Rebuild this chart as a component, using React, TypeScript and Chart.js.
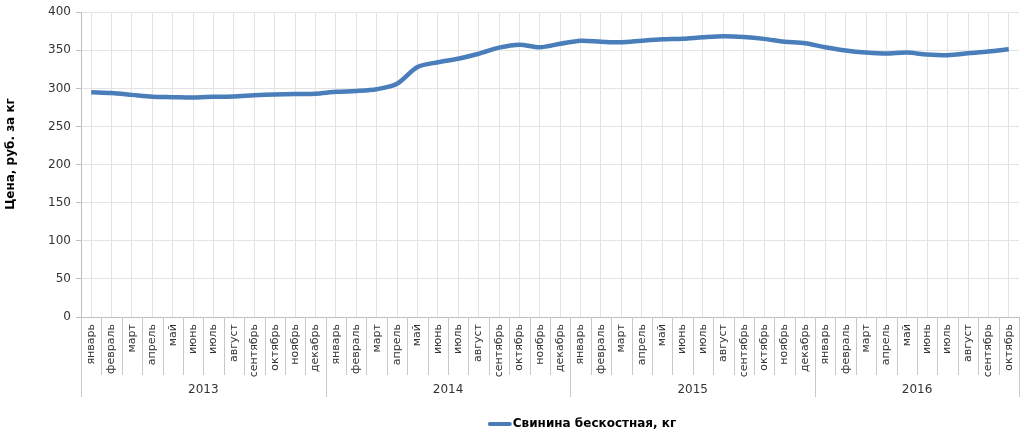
import React, { useEffect, useRef } from "react";
import { Chart, registerables } from "chart.js";

Chart.register(...registerables);

const monthNames = [
  "январь", "февраль", "март", "апрель", "май", "июнь",
  "июль", "август", "сентябрь", "октябрь", "ноябрь", "декабрь",
];
const years = ["2013", "2014", "2015", "2016"];
const values2013 = [295, 294, 291.5, 289, 288.5, 288, 289, 289.5, 291, 292, 292.5, 293];
const values2014 = [295.5, 296.6, 299, 306, 328, 334.4, 339, 345.5, 353.5, 357.4, 354, 358.5];
const values2015 = [362.6, 361.3, 360.5, 362.6, 364.4, 365.2, 367, 368.3, 367.4, 365, 361.3, 359.2];
const values2016 = [354, 349.7, 347, 345.7, 347, 344.4, 343.6, 346, 348.3, 351.4];
const seriesName = "Свинина бескостная, кг";
const yTitle = "Цена, руб. за кг";

const yearValues = [values2013, values2014, values2015, values2016];
const labels: string[] = [];
const values: number[] = [];
const yearCounts: number[] = [];
yearValues.forEach((arr) => {
  yearCounts.push(arr.length);
  arr.forEach((v, i) => {
    labels.push(monthNames[i]);
    values.push(v);
  });
});

const LINE_COLOR = "#4A7EBB";
const FONT = "'DejaVu Sans', Verdana, sans-serif";

const groupPlugin = {
  id: "groupAxis",
  afterDraw(chart: any) {
    const ctx = chart.ctx;
    const x = chart.scales.x;
    const area = chart.chartArea;
    const n = labels.length;
    const bw = (area.right - area.left) / n;
    const bottom = area.bottom;
    const boundaries = new Set<number>();
    let acc = 0;
    boundaries.add(0);
    yearCounts.forEach((c) => {
      acc += c;
      boundaries.add(acc);
    });
    ctx.save();
    ctx.strokeStyle = "#c8c8c8";
    ctx.lineWidth = 1;
    for (let i = 0; i <= n; i++) {
      const px = Math.round(area.left + i * bw) + 0.5;
      const len = boundaries.has(i) ? 80 : 58;
      ctx.beginPath();
      ctx.moveTo(px, bottom);
      ctx.lineTo(px, bottom + len);
      ctx.stroke();
    }
    // year labels
    ctx.fillStyle = "#333";
    ctx.font = `12px ${FONT}`;
    ctx.textAlign = "center";
    ctx.textBaseline = "middle";
    let start = 0;
    years.forEach((y, k) => {
      const end = start + yearCounts[k];
      const cx = (x.getPixelForValue(start) + x.getPixelForValue(end - 1)) / 2;
      ctx.fillText(y, cx, bottom + 73);
      start = end;
    });
    // y axis title
    ctx.save();
    ctx.translate(11, 154);
    ctx.rotate(-Math.PI / 2);
    ctx.font = `bold 12px ${FONT}`;
    ctx.fillStyle = "#000";
    ctx.textAlign = "center";
    ctx.textBaseline = "middle";
    ctx.fillText(yTitle, 0, 0);
    ctx.restore();
    // legend
    const ly = 424;
    ctx.font = `bold 12px ${FONT}`;
    ctx.textAlign = "left";
    ctx.textBaseline = "middle";
    const tw = ctx.measureText(seriesName).width;
    const total = 24 + 1 + tw;
    const lx = 582 - total / 2;
    ctx.strokeStyle = LINE_COLOR;
    ctx.lineWidth = 4;
    ctx.lineCap = "round";
    ctx.beginPath();
    ctx.moveTo(lx + 2, ly);
    ctx.lineTo(lx + 22, ly);
    ctx.stroke();
    ctx.fillStyle = "#000";
    ctx.fillText(seriesName, lx + 25, ly);
    ctx.restore();
  },
};

export default function App() {
  const ref = useRef<HTMLCanvasElement>(null);
  useEffect(() => {
    document.body.style.margin = "0";
    const chart = new Chart(ref.current!, {
      type: "line",
      data: {
        labels,
        datasets: [
          {
            label: seriesName,
            data: values,
            borderColor: LINE_COLOR,
            backgroundColor: LINE_COLOR,
            borderWidth: 4.5,
            pointRadius: 0,
            tension: 0.3,
            fill: false,
          },
        ],
      },
      options: {
        animation: false,
        responsive: false,
        maintainAspectRatio: false,
        layout: { padding: { top: 10, right: 5, left: 0, bottom: 0 } },
        plugins: {
          legend: { display: false },
          tooltip: { enabled: false },
        },
        scales: {
          x: {
            type: "category",
            offset: true,
            grid: { color: "#e3e3e3", drawTicks: false, offset: false },
            border: { color: "#bfbfbf" },
            ticks: {
              autoSkip: false,
              maxRotation: 90,
              minRotation: 90,
              padding: 7,
              color: "#333",
              font: { family: FONT, size: 11 },
            },
            afterFit(scale: any) {
              scale.height = 118;
              scale.paddingLeft = 0;
              scale.paddingRight = 0;
            },
          },
          y: {
            min: 0,
            max: 400,
            ticks: {
              stepSize: 50,
              color: "#333",
              padding: 5,
              font: { family: FONT, size: 12 },
            },
            grid: { color: "#e3e3e3", tickLength: 5, tickColor: "#bfbfbf" },
            border: { color: "#bfbfbf" },
            afterFit(scale: any) {
              scale.width = 81;
            },
          },
        },
      },
      plugins: [groupPlugin],
    });
    return () => chart.destroy();
  }, []);
  return (
    <div style={{ width: 1024, height: 435, position: "relative" }}>
      <canvas ref={ref} width={1024} height={435} style={{ display: "block" }} />
    </div>
  );
}
